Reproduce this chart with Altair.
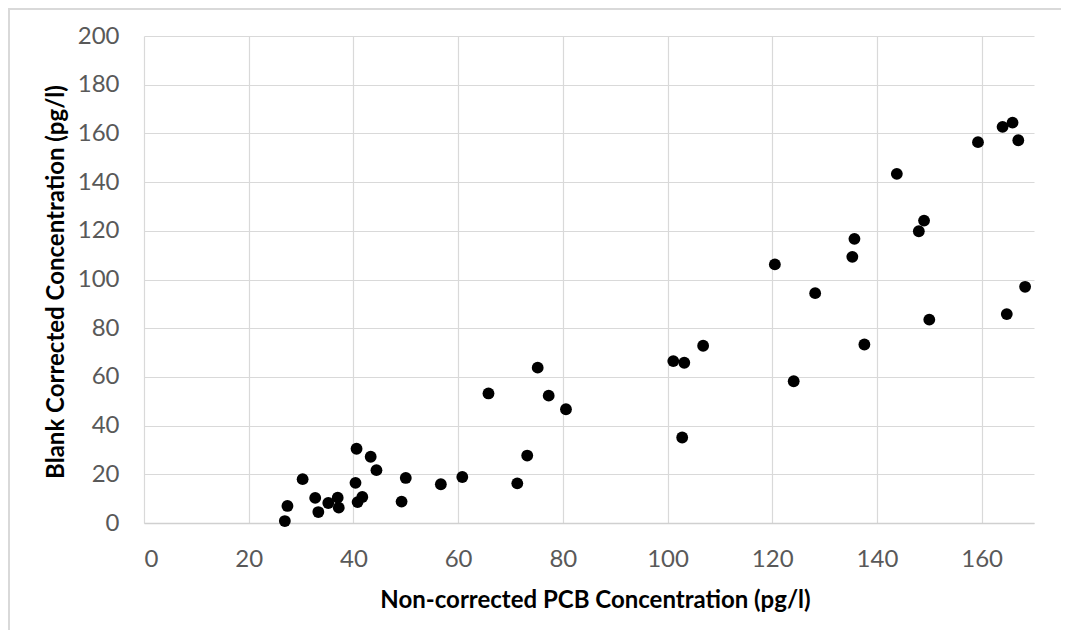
import altair as alt
import pandas as pd

# Non-corrected PCB concentration (pg/l)
x_vals = [26.9, 27.4, 30.3, 32.7, 33.3, 35.2, 37.0, 37.2, 40.6, 40.4, 40.8, 41.7,
          43.3, 44.4, 49.2, 50.0, 56.7, 60.8, 65.8,
          75.2, 77.3, 80.6, 73.2, 71.3, 101.1, 103.2, 106.8, 102.8, 124.1, 128.2,
          120.5, 135.7, 135.3, 137.6, 143.8, 149.0, 148.0, 150.0, 159.3, 164.0,
          165.9, 167.0, 164.8, 168.3]
# Blank corrected concentration (pg/l)
y_vals = [0.8, 7.0, 18.0, 10.3, 4.5, 8.2, 10.4, 6.3, 30.5, 16.5, 8.6, 10.7,
          27.2, 21.7, 8.8, 18.5, 15.9, 18.9, 53.2,
          63.8, 52.3, 46.7, 27.7, 16.3, 66.5, 65.8, 72.8, 35.1, 58.2, 94.4,
          106.2, 116.7, 109.3, 73.3, 143.4, 124.2, 119.8, 83.5, 156.4, 162.7,
          164.4, 157.2, 85.8, 97.0]

x_ticks = [0, 20, 40, 60, 80, 100, 120, 140, 160]
y_ticks = [0, 20, 40, 60, 80, 100, 120, 140, 160, 180, 200]

df = pd.DataFrame({"x": x_vals, "y": y_vals})

W, H = 890, 487
PAD = {"left": 136, "top": 28, "right": 27, "bottom": 107}
FONT = "Lato"

points = alt.Chart(df).mark_circle(size=140, color="#000000", opacity=1).encode(
    x=alt.X("x:Q",
            scale=alt.Scale(domain=[0, 170], nice=False, zero=True),
            axis=alt.Axis(values=x_ticks, title="Non-corrected PCB Concentration (pg/l)",
                          labelFontSize=24, labelColor="#595959", labelFont=FONT,
                          labelPadding=24, ticks=False,
                          domainColor="#d0d0d0", domainWidth=1.5,
                          gridColor="#d9d9d9", gridWidth=1.2,
                          titleFont=FONT, titleFontSize=24, titleFontWeight="bold",
                          titleColor="#000000", titleBaseline="alphabetic",
                          titleY=84, titleX=W / 2 + 6, titleAlign="center")),
    y=alt.Y("y:Q",
            scale=alt.Scale(domain=[0, 200], nice=False),
            axis=alt.Axis(values=y_ticks, title="Blank Corrected Concentration (pg/l)",
                          labelFontSize=24, labelColor="#595959", labelFont=FONT,
                          labelPadding=25, ticks=False, domain=False,
                          gridColor="#d9d9d9", gridWidth=1.2,
                          titleFont=FONT, titleFontSize=24, titleFontWeight="bold",
                          titleColor="#000000", titleBaseline="alphabetic",
                          titleAngle=270, titleX=-81, titleY=H / 2 + 2, titleAlign="center")),
)

frame_data = alt.Data(values=[{"a": 1}])
frame_left = alt.Chart(frame_data).mark_rule(color="#d9d9d9", strokeWidth=2).encode(
    x=alt.value(-135), y=alt.value(-28), y2=alt.value(H + PAD["bottom"]),
)
frame_top = alt.Chart(frame_data).mark_rule(color="#d9d9d9", strokeWidth=2).encode(
    y=alt.value(-27), x=alt.value(-136), x2=alt.value(W + PAD["right"]),
)

chart = alt.layer(frame_left, frame_top, points).properties(
    width=W, height=H,
    padding=PAD,
    autosize=alt.AutoSizeParams(type="none"),
    background="#ffffff",
).configure_view(stroke=None)

chart.save("out.html", embed_options={"renderer": "svg", "actions": False})
